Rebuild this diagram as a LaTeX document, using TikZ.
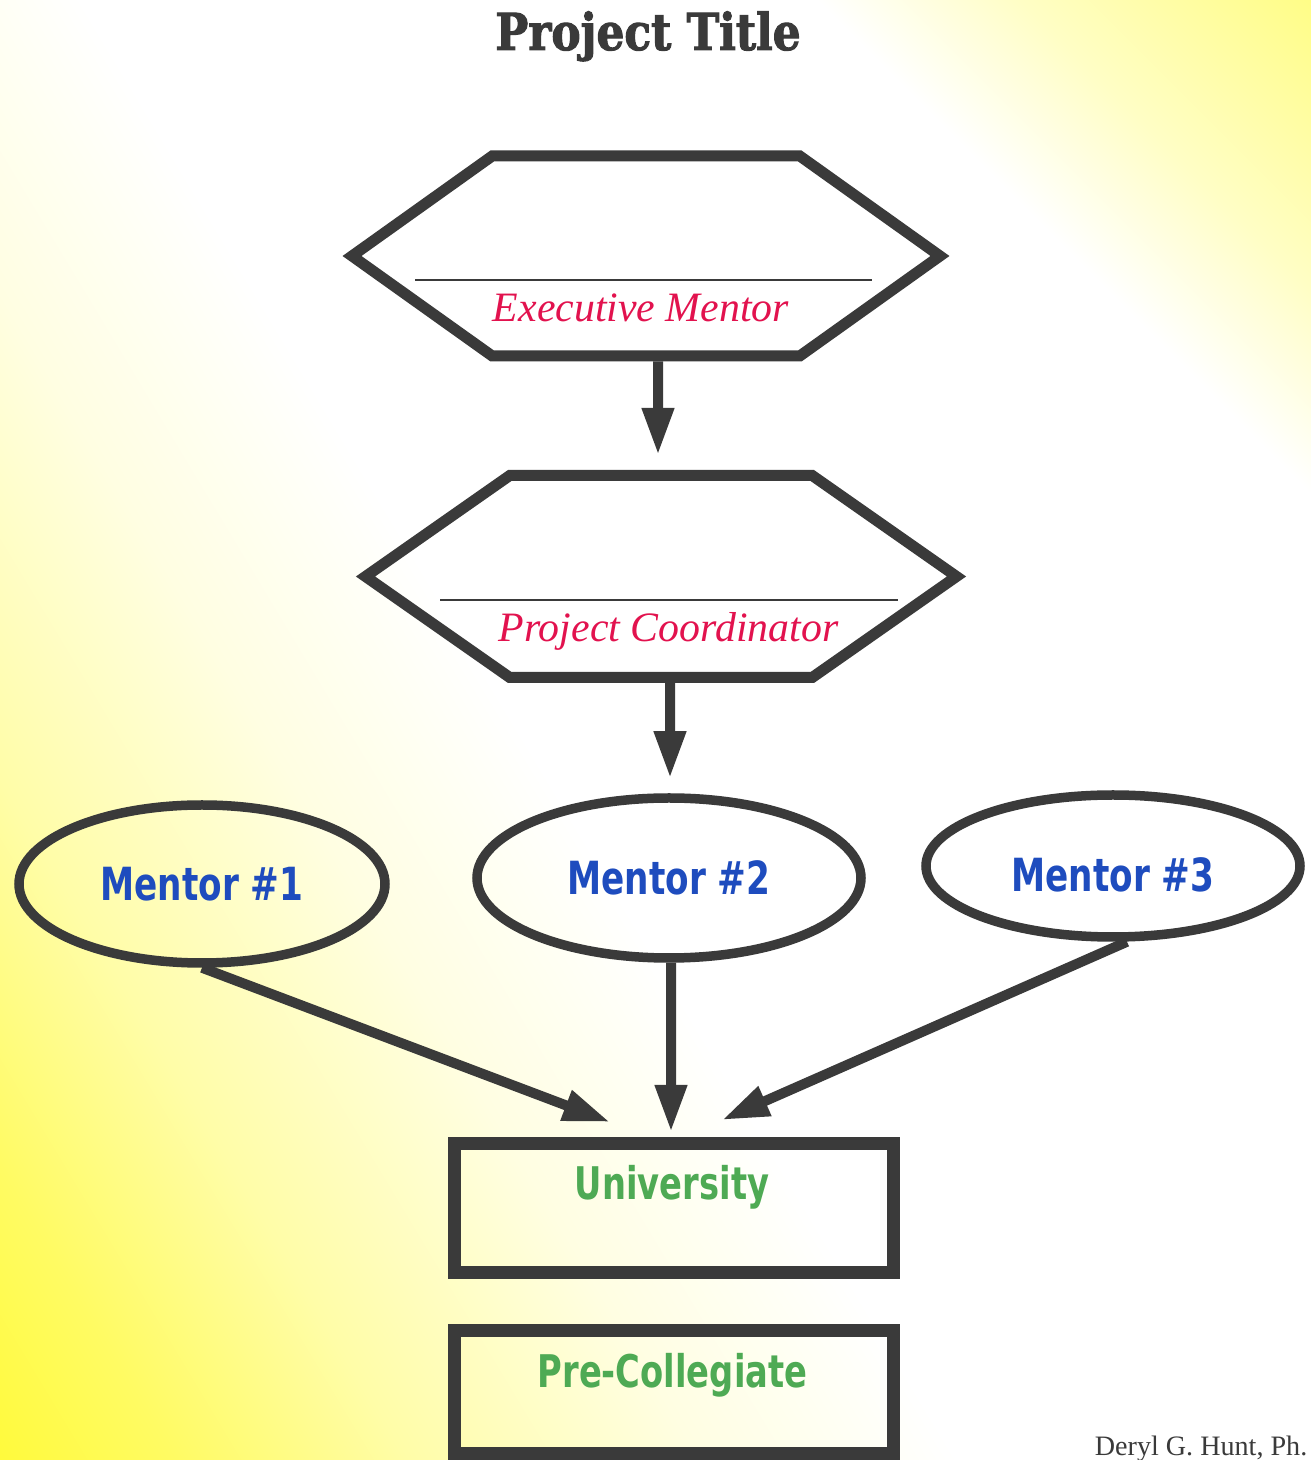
\documentclass[tikz,border=0pt]{standalone}
\usepackage{fontspec}
\setmainfont{Liberation Serif}
\newfontfamily\titlefont{DejaVu Serif}[FakeStretch=0.86, BoldFeatures={FakeBold=2}]
\newfontfamily\labelfont{DejaVu Sans}[FakeStretch=0.75]
\usetikzlibrary{arrows.meta,shapes.geometric,shapes.symbols}

\definecolor{inkgray}{RGB}{58,58,58}
\definecolor{rolered}{RGB}{226,18,78}
\definecolor{mentorblue}{RGB}{30,76,190}
\definecolor{schoolgreen}{RGB}{78,170,84}
\definecolor{glowlo}{RGB}{255,250,60}
\definecolor{glowhi}{RGB}{255,252,110}

% yellow paper: strong at the lower left, a paler glow in the upper right corner
\pgfdeclarehorizontalshading{paperglow}{100bp}{color(0bp)=(glowlo); color(25bp)=(glowlo);
  color(29bp)=(glowlo!80!white); color(34.3bp)=(glowlo!45!white); color(41bp)=(glowlo!15!white);
  color(46.9bp)=(white); color(100bp)=(white)}
\pgfdeclarehorizontalshading{cornerglow}{100bp}{color(0bp)=(white); color(25bp)=(white);
  color(45bp)=(glowhi!40!white); color(75bp)=(glowhi!85!white); color(100bp)=(glowhi!85!white)}

\begin{document}
\begin{tikzpicture}[
  hexbox/.style={signal, signal to=east and west, draw=inkgray, line width=0.11cm,
    inner sep=0pt, line join=miter},
  mentor/.style={ellipse, draw=inkgray, line width=0.095cm, inner sep=0pt,
    text=mentorblue, font=\fontsize{13}{15}\selectfont\labelfont\bfseries},
  school/.style={rectangle, draw=inkgray, line width=0.13cm, inner sep=0pt},
  schooltext/.style={anchor=base, text=schoolgreen, font=\fontsize{12.8}{15}\selectfont\labelfont\bfseries},
  roletext/.style={anchor=base, text=rolered, font=\fontsize{11.9}{14}\selectfont\itshape},
  rule/.style={draw=inkgray, line width=0.6pt},
  down/.style={draw=inkgray, line width=0.1cm, -{Triangle[width=0.3cm,length=0.47cm]}}]

  \useasboundingbox (0,0) rectangle (13.11,14.6);
  \begin{scope}
    \clip (0,0) rectangle (13.11,14.6);
    \begin{scope}[transform canvas={rotate around={31:(0,0)}}]
      \shade[shading=paperglow] (0,-7.2) rectangle (18.76,13);
    \end{scope}
    \begin{scope}[transform canvas={rotate around={45:(0,0)}}]
      \shade[shading=cornerglow] (16.1,-2.7) rectangle (19.7,4.8);
    \end{scope}
  \end{scope}

  \node[anchor=base, text=inkgray, font=\fontsize{14.5}{17}\selectfont\titlefont\bfseries]
    (title) at (6.48,14.10) {Project Title};

  % the two hexagons
  \node[hexbox, signal pointer angle=71, minimum width=5.88cm, minimum height=2cm]
    (exec) at (6.46,12.04) {};
  \draw[rule] ([shift={(-2.31,-0.24)}]exec.center) -- ([shift={(2.26,-0.24)}]exec.center);
  \node[roletext] (exectext) at (6.41,11.38) {Executive Mentor};

  \node[hexbox, signal pointer angle=70, minimum width=5.91cm, minimum height=2.02cm]
    (coord) at (6.61,8.835) {};
  \draw[rule] ([shift={(-2.21,-0.235)}]coord.center) -- ([shift={(2.37,-0.235)}]coord.center);
  \node[roletext] (coordtext) at (6.685,8.18) {Project Coordinator};

  % mentors
  \node[mentor, minimum width=3.66cm, minimum height=1.58cm] (m1) at (2.02,5.76) {Mentor \#1};
  \node[mentor, minimum width=3.84cm, minimum height=1.60cm] (m2) at (6.69,5.82) {Mentor \#2};
  \node[mentor, minimum width=3.74cm, minimum height=1.42cm, text height=0.52cm]
    (m3) at (11.13,5.94) {Mentor \#3};

  % schools
  \node[school, minimum width=4.39cm, minimum height=1.29cm] (univ) at (6.735,2.515) {};
  \node[schooltext] (univtext) at (6.72,2.60) {University};
  \node[school, minimum width=4.39cm, minimum height=1.23cm] (pre) at (6.74,0.675) {};
  \node[schooltext] (pretext) at (6.725,0.72) {Pre-Collegiate};

  \draw[down] ([xshift=1.2mm]exec.south) -- ([xshift=-0.3mm,yshift=1.5mm]coord.north);
  \draw[down] ([xshift=0.9mm]coord.south) -- ([xshift=0.1mm,yshift=1.5mm]m2.north);
  \draw[down] (m1.south) -- ([xshift=-6.35mm,yshift=1.55mm]univ.north);
  \draw[down] ([xshift=0.2mm]m2.south) -- ([xshift=-0.25mm,yshift=0.55mm]univ.north);
  \draw[down] ([xshift=1.4mm]m3.south) -- ([xshift=4.85mm,yshift=1.75mm]univ.north);

  \node[anchor=base east, inner sep=0pt, text=inkgray, font=\fontsize{8}{10}\selectfont]
    (sig) at (13.08,0.05) {Deryl G. Hunt, Ph.};
\end{tikzpicture}
\end{document}
